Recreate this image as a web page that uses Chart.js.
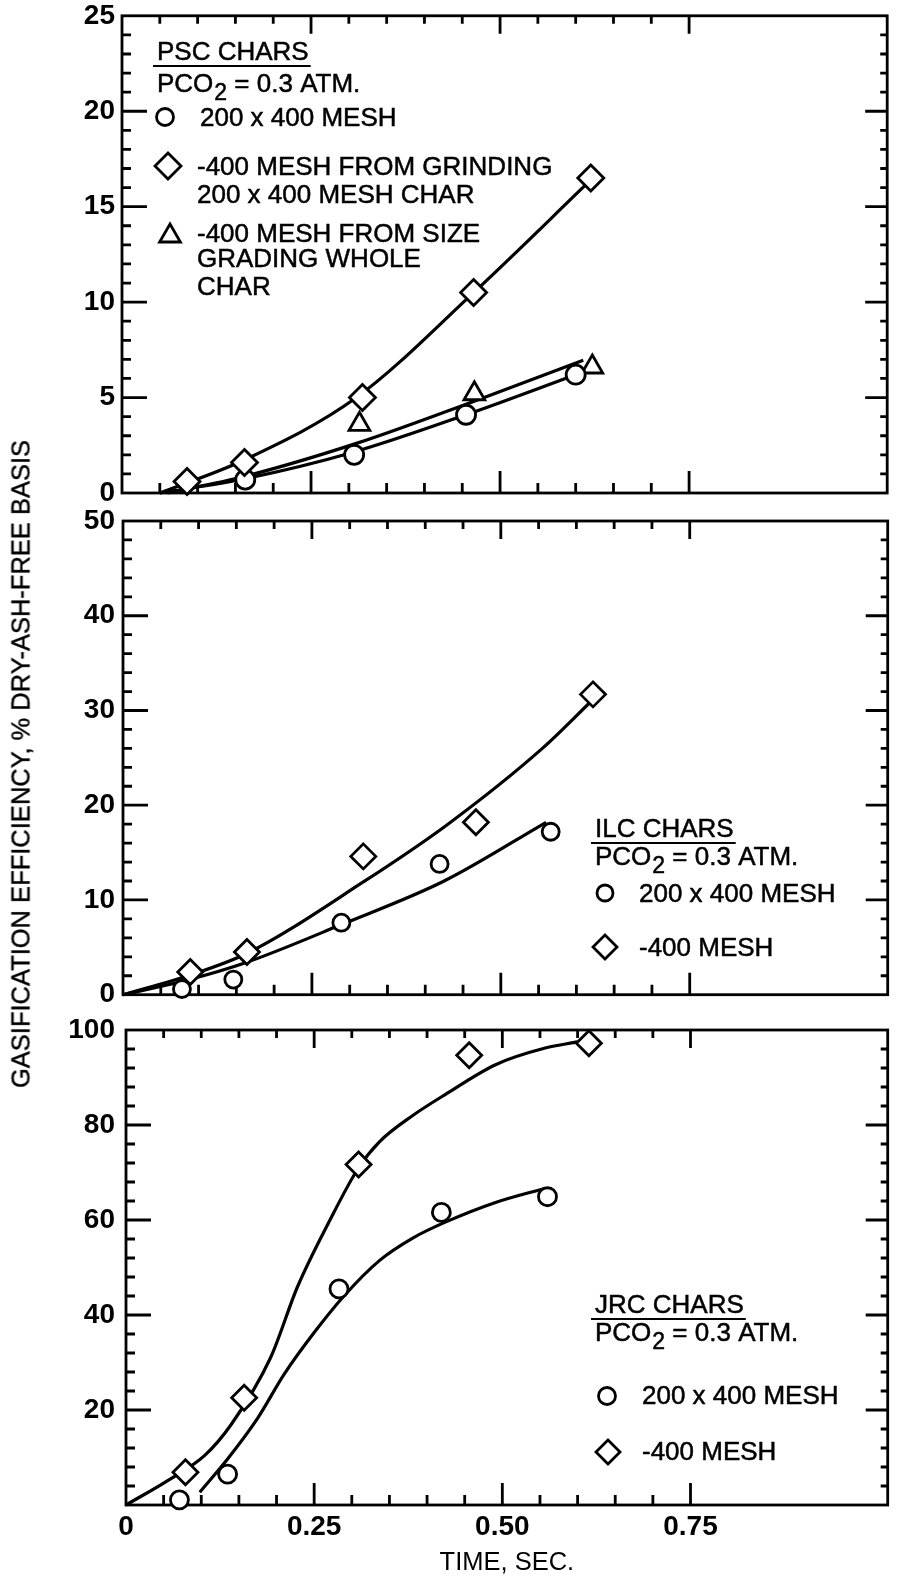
<!DOCTYPE html>
<html>
<head>
<meta charset="utf-8">
<script src="https://cdn.jsdelivr.net/npm/chart.js@4.4.1/dist/chart.umd.min.js"></script>
<style>
  html, body { margin: 0; padding: 0; background: #fff; }
  #fig { position: relative; width: 903px; height: 1581px; overflow: hidden; background: #fff; }
  #fig canvas { position: absolute; left: 0; }
  #ytitle {
    position: absolute; left: 21px; top: 764px;
    transform: translate(-50%, -50%) rotate(-90deg);
    white-space: nowrap; color: #000;
    font: 25.5px "Liberation Sans", Arial, sans-serif;
    -webkit-text-stroke: 0.4px #000;
  }
</style>
</head>
<body>
<div id="fig">
  <canvas id="psc" width="903" height="510" style="top:0px"></canvas>
  <canvas id="ilc" width="903" height="505" style="top:505px"></canvas>
  <canvas id="jrc" width="903" height="571" style="top:1010px"></canvas>
  <div id="ytitle">GASIFICATION EFFICIENCY, % DRY-ASH-FREE BASIS</div>
</div>
<script>
// ---------- time axis ----------
const timeTicks = [0, 0.25, 0.50, 0.75];
const timeTickLabels = ['0', '0.25', '0.50', '0.75'];

// ---------- PSC chars, PCO2 = 0.3 atm ----------
const pscTicks = [0, 5, 10, 15, 20, 25];
const pscTimeMesh = [0.163, 0.307, 0.455, 0.600];
const pscEffMesh  = [0.7, 2.0, 4.1, 6.2];
const pscTimeGround = [0.086, 0.162, 0.318, 0.465, 0.620];
const pscEffGround  = [0.6, 1.6, 5.0, 10.5, 16.5];
const pscTimeGraded = [0.314, 0.466, 0.622];
const pscEffGraded  = [3.6, 5.2, 6.6];
const pscCurveTimeMesh = [0.05, 0.163, 0.307, 0.455, 0.600];
const pscCurveEffMesh  = [0, 0.75, 2.15, 4.1, 6.2];
const pscCurveTimeGround = [0.05, 0.16, 0.31, 0.465, 0.62];
const pscCurveEffGround  = [0, 1.7, 5.0, 10.5, 16.4];
const pscCurveTimeGraded = [0.06, 0.16, 0.31, 0.465, 0.61];
const pscCurveEffGraded  = [0, 0.85, 2.6, 4.8, 6.95];

// ---------- ILC chars ----------
const ilcTicks = [0, 10, 20, 30, 40, 50];
const ilcTimeMesh = [0.078, 0.146, 0.289, 0.419, 0.566];
const ilcEffMesh  = [0.6, 1.6, 7.6, 13.8, 17.2];
const ilcTimeFine = [0.089, 0.164, 0.318, 0.467, 0.622];
const ilcEffFine  = [2.4, 4.5, 14.6, 18.2, 31.7];
const ilcCurveTimeMesh = [0, 0.083, 0.163, 0.289, 0.425, 0.56];
const ilcCurveEffMesh  = [0, 1.5, 3.4, 7.4, 12.0, 18.2];
const ilcCurveTimeFine = [0, 0.09, 0.165, 0.318, 0.43, 0.555, 0.62];
const ilcCurveEffFine  = [0, 2.1, 4.4, 11.9, 18.0, 26.0, 31.0];

// ---------- JRC chars ----------
const jrcTicks = [20, 40, 60, 80, 100];
const jrcTimeMesh = [0.071, 0.135, 0.283, 0.419, 0.560];
const jrcEffMesh  = [1.1, 6.5, 45.5, 61.6, 64.9];
const jrcTimeFine = [0.079, 0.157, 0.309, 0.456, 0.615];
const jrcEffFine  = [6.9, 22.6, 71.7, 94.7, 97.2];
const jrcCurveTimeFine = [0, 0.057, 0.105, 0.14, 0.192, 0.228, 0.271, 0.309, 0.337, 0.381, 0.425, 0.491, 0.557, 0.60];
const jrcCurveEffFine  = [0, 5.3, 10.5, 17, 31, 46, 60, 71, 76.5, 82, 86.5, 92.7, 96.2, 97.5];
const jrcCurveTimeMesh = [0.098, 0.136, 0.175, 0.21, 0.25, 0.289, 0.337, 0.381, 0.425, 0.491, 0.557];
const jrcCurveEffMesh  = [2.7, 9.9, 18.3, 27.5, 36.3, 43.9, 51.5, 56.2, 59.6, 63.7, 66.7];

// ---------- helpers ----------
const INK = '#000';
const TEXT_FONT = '"Liberation Sans", Arial, sans-serif';
const TICK_FONT = { family: TEXT_FONT, size: 28, weight: 'bold' };
const pts = (xs, ys) => xs.map((x, i) => ({ x, y: ys[i] }));

function markers(xs, ys, style, r) {
  return {
    data: pts(xs, ys), order: 0, showLine: false, clip: false,
    pointStyle: style, pointRadius: r, pointHoverRadius: r,
    pointBackgroundColor: '#fff', pointBorderColor: INK, pointBorderWidth: 2.8
  };
}
function curve(xs, ys) {
  return {
    data: pts(xs, ys), order: 1, showLine: true, clip: false,
    borderColor: INK, borderWidth: 3.2, pointRadius: 0,
    cubicInterpolationMode: 'monotone', fill: false
  };
}

// frame with inward tick marks on all four sides
const frameTicks = {
  id: 'frameTicks',
  beforeDatasetsDraw(chart, args, o) {
    const { ctx, chartArea: a, scales: { x, y } } = chart;
    ctx.save();
    ctx.strokeStyle = INK;
    ctx.lineWidth = 2.8;
    ctx.strokeRect(a.left, a.top, a.right - a.left, a.bottom - a.top);
    ctx.beginPath();
    const n = Math.round(y.max / o.yMinor);
    const per = Math.round(o.yMajor / o.yMinor);
    for (let k = 1; k < n; k++) {
      const major = k % per === 0;
      const py = y.getPixelForValue(k * o.yMinor);
      ctx.moveTo(a.left, py);  ctx.lineTo(a.left + (major ? 25 : 9), py);
      ctx.moveTo(a.right, py); ctx.lineTo(a.right - (major ? 22 : 7), py);
    }
    for (let k = 1; k <= 15; k++) {
      const major = k % 5 === 0;
      const px = x.getPixelForValue(k * 0.05);
      ctx.moveTo(px, a.top);    ctx.lineTo(px, a.top + (major ? 18 : 8));
      ctx.moveTo(px, a.bottom); ctx.lineTo(px, a.bottom - (major ? 22 : 10));
    }
    ctx.stroke();
    ctx.restore();
  }
};

function keySymbol(ctx, kind, cx, cy, r) {
  ctx.beginPath();
  if (kind === 'circle') {
    ctx.arc(cx, cy, r, 0, Math.PI * 2);
  } else if (kind === 'diamond') {
    ctx.moveTo(cx, cy - r); ctx.lineTo(cx + r, cy); ctx.lineTo(cx, cy + r); ctx.lineTo(cx - r, cy);
    ctx.closePath();
  } else {
    const h = r * 0.5;
    ctx.moveTo(cx, cy - r);
    ctx.lineTo(cx + r * Math.sqrt(3) / 2, cy + h);
    ctx.lineTo(cx - r * Math.sqrt(3) / 2, cy + h);
    ctx.closePath();
  }
  ctx.fillStyle = '#fff'; ctx.fill();
  ctx.strokeStyle = INK; ctx.lineWidth = 2.8; ctx.stroke();
}

function inkText(ctx, t, x, y) {
  ctx.fillText(t, x, y);
  ctx.strokeText(t, x, y);
}

// in-plot key: title, gas pressure line, symbols with captions
const plotKey = {
  id: 'plotKey',
  afterDraw(chart, args, o) {
    const ctx = chart.ctx;
    ctx.save();
    ctx.fillStyle = INK; ctx.strokeStyle = INK;
    ctx.textAlign = 'left'; ctx.textBaseline = 'alphabetic';
    ctx.font = '26px ' + TEXT_FONT;
    ctx.lineWidth = 0.5;
    inkText(ctx, o.title, o.x, o.titleY);
    ctx.lineWidth = 2.2;
    ctx.beginPath();
    ctx.moveTo(o.x - 4, o.titleY + 6);
    ctx.lineTo(o.x + ctx.measureText(o.title).width + 2, o.titleY + 6);
    ctx.stroke();
    ctx.lineWidth = 0.5;
    let px = o.x;
    inkText(ctx, 'PCO', px, o.pcoY);
    px += ctx.measureText('PCO').width + 1;
    ctx.font = '23px ' + TEXT_FONT;
    inkText(ctx, '2', px, o.pcoY + 8);
    px += ctx.measureText('2').width;
    ctx.font = '26px ' + TEXT_FONT;
    inkText(ctx, ' = 0.3 ATM.', px, o.pcoY);
    o.entries.forEach(e => {
      keySymbol(ctx, e.symbol, e.sx, e.sy, e.r);
      ctx.fillStyle = INK; ctx.lineWidth = 0.5;
      e.lines.forEach((t, i) => inkText(ctx, t, e.tx, e.ty[i]));
    });
    ctx.restore();
  }
};

function panel(id, cfg) {
  const last = cfg.bottomAxis;
  return new Chart(document.getElementById(id), {
    type: 'scatter',
    data: { datasets: cfg.datasets },
    options: {
      responsive: false, animation: false, devicePixelRatio: 1, events: [],
      layout: { padding: cfg.padding },
      plugins: {
        legend: { display: false }, tooltip: { enabled: false },
        frameTicks: cfg.ticks, plotKey: cfg.key
      },
      scales: {
        x: {
          type: 'linear', min: 0, max: 1.012, display: last,
          position: 'bottom',
          grid: { display: false, drawTicks: false }, border: { display: false },
          afterBuildTicks: s => { s.ticks = timeTicks.map(v => ({ value: v })); },
          ticks: {
            autoSkip: false, maxRotation: 0, padding: 5, color: INK, font: TICK_FONT,
            callback: v => timeTickLabels[timeTicks.indexOf(v)]
          },
          title: {
            display: last, text: 'TIME, SEC.', color: INK,
            font: { family: TEXT_FONT, size: 25.5 }, padding: { top: 0, bottom: 3 }
          },
          afterFit: s => { s.height = last ? 76 : 0; s.paddingLeft = 0; s.paddingRight = 0; }
        },
        y: {
          type: 'linear', min: 0, max: cfg.yMax,
          grid: { display: false, drawTicks: false }, border: { display: false },
          afterBuildTicks: s => { s.ticks = cfg.yTicks.map(v => ({ value: v })); },
          ticks: { padding: cfg.yPad, color: INK, font: TICK_FONT },
          afterFit: s => { s.width = cfg.yWidth; s.paddingTop = 0; s.paddingBottom = 0; }
        }
      }
    },
    plugins: [frameTicks, plotKey]
  });
}

// ---------- top: PSC ----------
panel('psc', {
  padding: { top: 12, bottom: 17, left: 0, right: 3 },
  yWidth: 122, yPad: 7, yMax: 25, yTicks: pscTicks, bottomAxis: false,
  ticks: { yMinor: 1, yMajor: 5 },
  datasets: [
    markers(pscTimeGround, pscEffGround, 'rectRot', 13),
    markers(pscTimeMesh, pscEffMesh, 'circle', 9.5),
    markers(pscTimeGraded, pscEffGraded, 'triangle', 12),
    curve(pscCurveTimeGround, pscCurveEffGround),
    curve(pscCurveTimeMesh, pscCurveEffMesh),
    curve(pscCurveTimeGraded, pscCurveEffGraded)
  ],
  key: {
    title: 'PSC CHARS', x: 157, titleY: 60, pcoY: 92,
    entries: [
      { symbol: 'circle', sx: 165, sy: 117, r: 8.5, tx: 200, lines: ['200 x 400 MESH'], ty: [126] },
      { symbol: 'diamond', sx: 168, sy: 166, r: 13, tx: 197, lines: ['-400 MESH FROM GRINDING', '200 x 400 MESH CHAR'], ty: [175, 203] },
      { symbol: 'triangle', sx: 170, sy: 236, r: 12, tx: 197, lines: ['-400 MESH FROM SIZE', 'GRADING WHOLE', 'CHAR'], ty: [242, 267, 295] }
    ]
  }
});

// ---------- middle: ILC ----------
panel('ilc', {
  padding: { top: 16, bottom: 11, left: 0, right: 3 },
  yWidth: 123, yPad: 8, yMax: 50, yTicks: ilcTicks, bottomAxis: false,
  ticks: { yMinor: 2, yMajor: 10 },
  datasets: [
    markers(ilcTimeFine, ilcEffFine, 'rectRot', 12.5),
    markers(ilcTimeMesh, ilcEffMesh, 'circle', 8.5),
    curve(ilcCurveTimeFine, ilcCurveEffFine),
    curve(ilcCurveTimeMesh, ilcCurveEffMesh)
  ],
  key: {
    title: 'ILC CHARS', x: 595, titleY: 332, pcoY: 360,
    entries: [
      { symbol: 'circle', sx: 605, sy: 388, r: 8, tx: 639, lines: ['200 x 400 MESH'], ty: [397] },
      { symbol: 'diamond', sx: 605, sy: 442, r: 12, tx: 639, lines: ['-400 MESH'], ty: [451] }
    ]
  }
});

// ---------- bottom: JRC ----------
panel('jrc', {
  padding: { top: 20, bottom: 0, left: 0, right: 3 },
  yWidth: 126, yPad: 11, yMax: 100, yTicks: jrcTicks, bottomAxis: true,
  ticks: { yMinor: 4, yMajor: 20 },
  datasets: [
    markers(jrcTimeFine, jrcEffFine, 'rectRot', 12.5),
    markers(jrcTimeMesh, jrcEffMesh, 'circle', 9),
    curve(jrcCurveTimeFine, jrcCurveEffFine),
    curve(jrcCurveTimeMesh, jrcCurveEffMesh)
  ],
  key: {
    title: 'JRC CHARS', x: 595, titleY: 303, pcoY: 331,
    entries: [
      { symbol: 'circle', sx: 607, sy: 386, r: 8.5, tx: 642, lines: ['200 x 400 MESH'], ty: [394] },
      { symbol: 'diamond', sx: 608, sy: 442, r: 12, tx: 642, lines: ['-400 MESH'], ty: [450] }
    ]
  }
});
</script>
</body>
</html>
